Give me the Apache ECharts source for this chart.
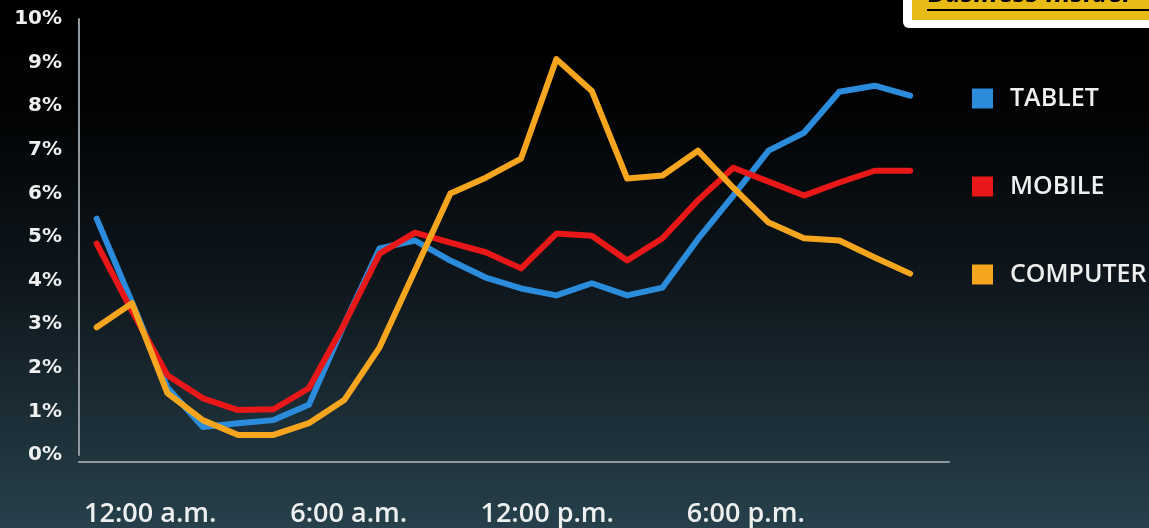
<!DOCTYPE html>
<html>
<head>
<meta charset="utf-8">
<script src="https://cdn.jsdelivr.net/npm/echarts@6/dist/echarts.min.js"></script>
<style>
  html, body { margin: 0; padding: 0; background: #000; }
  #chart { width: 1149px; height: 528px; }
</style>
</head>
<body>
<div id="chart"></div>
<script>
// Share of daily traffic by hour, per device type (percent)
const hours = [0,1,2,3,4,5,6,7,8,9,10,11,12,13,14,15,16,17,18,19,20,21,22,23];
const tablet   = [5.42,3.5,1.55,0.64,0.73,0.8,1.15,3.0,4.74,4.92,4.46,4.07,3.82,3.66,3.94,3.66,3.84,4.95,5.95,6.98,7.39,8.33,8.47,8.24];
const mobile   = [4.85,3.3,1.83,1.3,1.03,1.05,1.53,3.0,4.62,5.1,4.87,4.65,4.28,5.08,5.03,4.46,4.97,5.84,6.59,6.27,5.95,6.25,6.52,6.52];
const computer = [2.93,3.48,1.42,0.8,0.46,0.46,0.73,1.26,2.47,4.23,6.0,6.36,6.8,9.08,8.35,6.34,6.41,6.98,6.13,5.33,4.97,4.92,4.53,4.16];
const timeLabels = ['12:00 a.m.', '6:00 a.m.', '12:00 p.m.', '6:00 p.m.'];
const seriesNames = ['TABLET', 'MOBILE', 'COMPUTER'];
const seriesColors = ['#2c8cdc', '#e81818', '#f5a51e'];

const toPairs = arr => arr.map((v, i) => [hours[i], v]);
const seriesData = [tablet, mobile, computer];

const chart = echarts.init(document.getElementById('chart'), null, { renderer: 'canvas' });

const textFont = "'Open Sans', 'DejaVu Sans', sans-serif";
const numFont = "'DejaVu Sans', 'Open Sans', sans-serif";

chart.setOption({
  animation: false,
  backgroundColor: {
    type: 'linear', x: 0, y: 0, x2: 0, y2: 1,
    colorStops: [
      { offset: 0, color: '#000000' },
      { offset: 0.2, color: '#010203' },
      { offset: 0.55, color: '#0f181e' },
      { offset: 1, color: '#27404b' }
    ]
  },
  grid: [
    { left: 79, right: 200, top: 19, bottom: 73 },
    { left: 51, width: 794, top: 19, bottom: 73 }
  ],
  legend: {
    orient: 'vertical',
    left: 972,
    top: 86,
    padding: 0,
    icon: 'rect',
    itemWidth: 21,
    itemHeight: 20,
    itemGap: 63,
    selectedMode: false,
    data: seriesNames,
    textStyle: {
      color: '#eef0f0',
      fontFamily: textFont,
      fontSize: 25,
      fontWeight: 600,
      lineHeight: 20,
      padding: [0, 0, 0, 12]
    }
  },
  xAxis: [
    {
      type: 'value',
      gridIndex: 0,
      min: -0.5,
      max: 24.1,
      offset: 7,
      axisLine: { show: true, onZero: false, lineStyle: { color: '#8e989e', width: 2 } },
      axisTick: { show: false },
      axisLabel: { show: false },
      splitLine: { show: false }
    },
    {
      type: 'category',
      gridIndex: 1,
      data: timeLabels,
      boundaryGap: true,
      axisLine: { show: false },
      axisTick: { show: false },
      splitLine: { show: false },
      axisLabel: {
        margin: 46,
        color: '#eef0f0',
        fontFamily: textFont,
        fontSize: 27,
        fontWeight: 600
      }
    }
  ],
  yAxis: [
    {
      type: 'value',
      gridIndex: 0,
      min: 0,
      max: 10,
      interval: 1,
      axisLine: { show: true, onZero: false, lineStyle: { color: '#8e989e', width: 2 } },
      axisTick: { show: false },
      splitLine: { show: false },
      axisLabel: {
        margin: 17,
        formatter: '{value}%',
        color: '#eef0f0',
        fontFamily: numFont,
        fontSize: 20,
        fontWeight: 'bold'
      }
    },
    {
      type: 'value',
      gridIndex: 1,
      show: false
    }
  ],
  series: seriesNames.map((name, i) => ({
    name: name,
    type: 'line',
    xAxisIndex: 0,
    yAxisIndex: 0,
    data: toPairs(seriesData[i]),
    symbol: 'none',
    color: seriesColors[i],
    itemStyle: { color: seriesColors[i] },
    lineStyle: { color: seriesColors[i], width: 6, cap: 'round', join: 'round' },
    z: 2 + i
  })),
  graphic: [
    {
      type: 'rect',
      shape: { x: 903, y: -10, width: 260, height: 38, r: 6 },
      style: { fill: '#ffffff' },
      z: 10
    },
    {
      type: 'rect',
      shape: { x: 912, y: -10, width: 250, height: 30 },
      style: { fill: '#e8bb17' },
      z: 11
    },
    {
      type: 'text',
      x: 928,
      y: 8,
      style: {
        text: 'Business Insider',
        fill: '#000000',
        font: "italic bold 27px 'Open Sans', sans-serif",
        verticalAlign: 'bottom'
      },
      z: 12
    },
    {
      type: 'line',
      shape: { x1: 927, y1: 10, x2: 1149, y2: 10 },
      style: { stroke: '#000000', lineWidth: 2 },
      z: 12
    }
  ]
});
</script>
</body>
</html>
